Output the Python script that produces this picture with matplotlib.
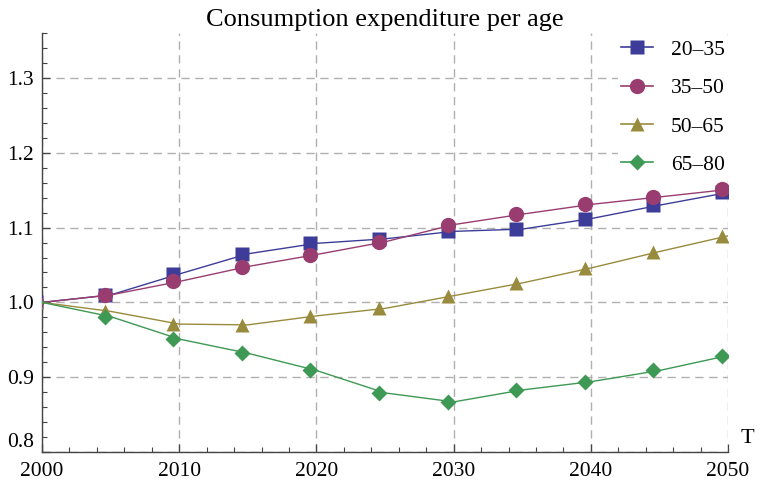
import matplotlib
matplotlib.use("Agg")
import matplotlib.pyplot as plt
import matplotlib.transforms as mtransforms
from matplotlib.lines import Line2D
from matplotlib.ticker import MultipleLocator, FormatStrFormatter

plt.rcParams['font.family'] = ['Liberation Serif', 'DejaVu Serif']

years = [2000, 2005, 2010, 2015, 2020, 2025, 2030, 2035, 2040, 2045, 2050]
age_20_35 = [1.000, 1.010, 1.038, 1.065, 1.079, 1.085, 1.095, 1.098, 1.112, 1.130, 1.147]
age_35_50 = [1.000, 1.010, 1.028, 1.048, 1.064, 1.081, 1.104, 1.118, 1.131, 1.141, 1.151]
age_50_65 = [1.000, 0.988, 0.971, 0.970, 0.982, 0.992, 1.009, 1.026, 1.046, 1.068, 1.089]
age_65_80 = [1.000, 0.981, 0.951, 0.932, 0.909, 0.879, 0.867, 0.883, 0.894, 0.909, 0.929]
labels = ['20\u201335', '35\u201350', '50\u201365', '65\u201380']

series = [age_20_35, age_35_50, age_50_65, age_65_80]
colors = [(0.24, 0.24, 0.6), (0.6, 0.24, 0.442), (0.6, 0.547, 0.24), (0.24, 0.6, 0.33)]
markers = ['s', 'o', '^', 'D']
msizes = [10, 11, 10, 8]

fig = plt.figure(figsize=(7.6, 4.8), dpi=100)
ax = fig.add_axes([0.0553, 0.0583, 0.9027, 0.8727])

# markers sit a few pixels left of the line vertices, like the original
shift = mtransforms.ScaledTranslation(-6/100, 0, fig.dpi_scale_trans)

handles = []
for vals, c, m, ms, lab in zip(series, colors, markers, msizes, labels):
    ax.plot(years, vals, color=c, lw=1.0, zorder=3)
    ax.plot(years, vals, ls='none', marker=m, ms=ms, color=c, mec='none',
            transform=ax.transData + shift, zorder=4)
    handles.append(Line2D([], [], color=c, lw=1.2, marker=m, ms=ms, mec='none', label=lab))

ax.set_xlim(2000, 2050)
ax.set_ylim(0.8, 1.36)
ax.xaxis.set_major_locator(MultipleLocator(10))
ax.xaxis.set_minor_locator(MultipleLocator(2))
ax.yaxis.set_major_locator(MultipleLocator(0.1))
ax.yaxis.set_minor_locator(MultipleLocator(0.02))
ax.yaxis.set_major_formatter(FormatStrFormatter('%.1f'))

for s in ['top', 'right']:
    ax.spines[s].set_visible(False)
for s in ['left', 'bottom']:
    ax.spines[s].set_color('#444444')
    ax.spines[s].set_linewidth(1.0)

ax.tick_params(which='major', direction='in', length=6, width=0.9, color='#444444', labelsize=15.5)
ax.tick_params(axis='x', which='major', pad=7)
ax.tick_params(axis='y', which='major', pad=6)
ax.tick_params(which='minor', direction='in', length=3.5, width=0.8, color='#444444')
ax.grid(True, which='major', ls=(0, (6, 4)), color='#b0b0b0', lw=1.0)
ax.set_axisbelow(True)

# the lowest y label sits on top of the axis line, clear of "2000"
fig.canvas.draw()
for t in ax.yaxis.get_major_ticks():
    if abs(t.get_loc() - 0.8) < 1e-6:
        t.label1.set_verticalalignment('bottom')

ax.set_title('Consumption expenditure per age', fontsize=19, pad=5)
ax.annotate('T', xy=(1, 0), xycoords='axes fraction', xytext=(9, 3),
            textcoords='offset points', fontsize=16, va='bottom', ha='left',
            annotation_clip=False)

leg = ax.legend(handles=handles, loc='upper right', bbox_to_anchor=(1.003, 0.997),
                frameon=True, fontsize=15.5, handlelength=1.45, labelspacing=0.85,
                handletextpad=0.85, borderpad=0.15, borderaxespad=0.1)
leg.get_frame().set_edgecolor('none')
leg.get_frame().set_facecolor('white')
leg.get_frame().set_alpha(1)

fig.savefig('out.png', dpi=100)
